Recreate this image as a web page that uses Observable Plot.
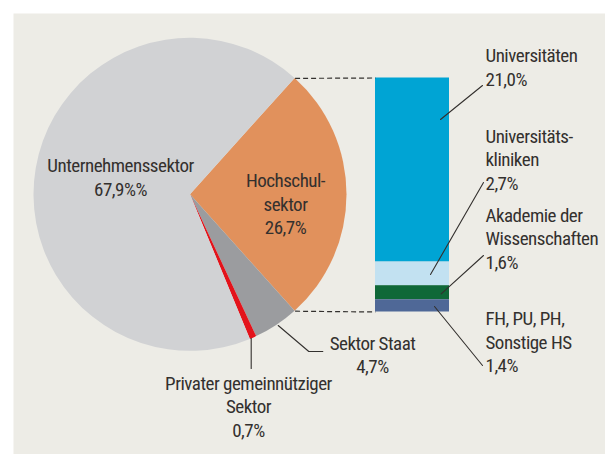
<!DOCTYPE html>
<html>
<head>
<meta charset="utf-8">
<script src="https://cdn.jsdelivr.net/npm/d3@7"></script>
<script src="https://cdn.jsdelivr.net/npm/@observablehq/plot@0.6"></script>
<style>
  html, body { margin: 0; padding: 0; background: #ffffff; }
</style>
</head>
<body>
<div id="chart"></div>
<script>
// ---------- DATA ----------
// Pie: sectors (clockwise, starting with the exploded Hochschulsektor)
const sectorNames  = ["Hochschulsektor", "Sektor Staat", "Privater gemeinnütziger Sektor", "Unternehmenssektor"];
const sectorShares = [26.7, 4.7, 0.7, 67.9];
const sectorLabels = ["Hochschul-\nsektor\n26,7%", "Sektor Staat\n4,7%", "Privater gemeinnütziger\nSektor\n0,7%", "Unternehmenssektor\n67,9%%"];

// Bar: breakdown of the Hochschulsektor (top to bottom)
const hsNames  = ["Universitäten", "Universitätskliniken", "Akademie der Wissenschaften", "FH, PU, PH, Sonstige HS"];
const hsShares = [21.0, 2.7, 1.6, 1.4];
const hsLabels = ["Universitäten\n21,0%", "Universitäts-\nkliniken\n2,7%", "Akademie der\nWissenschaften\n1,6%", "FH, PU, PH,\nSonstige HS\n1,4%"];

// ---------- STYLE ----------
const sectorColors = ["#e1915c", "#9b9c9f", "#e3131b", "#d1d2d4"];
const hsColors     = ["#00a4d4", "#c2e1f1", "#0f6838", "#4f6897"];
const PANEL = "#edece6", INK = "#33302e";
const FONT = "'Liberation Sans Narrow', 'Roboto Condensed', 'DejaVu Sans Condensed', sans-serif";
const FS = 19, LH = 23.3 / 19;

// ---------- LAYOUT (pixels) ----------
const W = 605, H = 454;
const PIE = {cx: 190, cy: 194.3, r: 156.5};
const BAR = {x1: 375, x2: 449, top: 77.5, bottom: 311.5};

const hsTotal = d3.sum(hsShares);
const yDef = {type: "linear", domain: [0, hsTotal], range: [BAR.bottom, BAR.top]};
const yScale = Plot.scale({y: yDef});
const Y = (py) => yScale.invert(py);   // pixel layout -> y units

const sectors = sectorNames.map((name, i) => ({name, share: sectorShares[i], color: sectorColors[i], label: sectorLabels[i]}));
const hs = hsNames.map((name, i) => ({name, share: hsShares[i], color: hsColors[i], label: hsLabels[i]}));

// pie orientation: exploded slice centred on the right (east)
const pieTotal = d3.sum(sectorShares);
const startAngle = Math.PI / 2 - (sectorShares[0] / pieTotal) * Math.PI;
const arcs = d3.pie().sort(null).value(d => d.share)
  .startAngle(startAngle).endAngle(startAngle + 2 * Math.PI)(sectors);

// connectors from the Hochschul slice edges to the bar corners
const hsArc = arcs[0];
const edge = a => ({x: PIE.cx + PIE.r * Math.sin(a), y: PIE.cy - PIE.r * Math.cos(a)});
const connectors = [
  {from: edge(hsArc.startAngle), toY: hsTotal},
  {from: edge(hsArc.endAngle), toY: 0}
];

// label positions (x, last-line baseline)
const sectorLabelPos = [
  {x: 285, y: 233.3},
  {x: 372, y: 372.7},
  {x: 248, y: 436},
  {x: 120, y: 195}
];
const hsLabelPos = [
  {x: 485, y: 85},
  {x: 485, y: 189},
  {x: 485, y: 268},
  {x: 485, y: 371.5}
];
const sectorLabelRows = sectors.map((d, i) => ({text: d.label, ...sectorLabelPos[i]}));
const hsLabelRows = hs.map((d, i) => ({text: d.label, ...hsLabelPos[i]}));

// leader lines (pixel polylines)
const leaders = [
  {id: "uni",  pts: [[440, 119], [482, 85]]},
  {id: "klin", pts: [[430, 274], [483, 182]]},
  {id: "akad", pts: [[440.7, 293.3], [483, 255]]},
  {id: "fh",   pts: [[434, 306], [482, 365]]},
  {id: "staat",pts: [[277.7, 325], [308.3, 351], [322.3, 351]]},
  {id: "priv", pts: [[250.7, 338], [250.7, 368]]}
];
const leaderPts = leaders.flatMap(l => l.pts.map(([x, y]) => ({id: l.id, x, y: Y(y)})));

// pie render mark (uses Plot's scales for placement)
function pieMark(index, scales) {
  const cx = scales.x(PIE.cx), cy = scales.y(Y(PIE.cy));
  const arc = d3.arc().innerRadius(0).outerRadius(PIE.r);
  const g = d3.create("svg:g").attr("transform", `translate(${cx},${cy})`);
  g.selectAll("path").data(arcs).join("path")
    .attr("d", arc)
    .attr("fill", d => d.data.color);
  return g.node();
}

const textOpts = {x: "x", y: d => Y(d.y), text: "text", lineAnchor: "bottom", lineHeight: LH, fontSize: FS, fill: INK};

const chart = Plot.plot({
  width: W,
  height: H,
  margin: 0,
  x: {type: "identity", axis: null},
  y: {...yDef, axis: null},
  style: {fontFamily: FONT, fontSize: FS + "px", color: INK, background: "#ffffff", letterSpacing: "-0.5px"},
  marks: [
    Plot.frame({fill: PANEL, stroke: "none", insetLeft: 13, insetTop: 13}),
    pieMark,
    Plot.rectY(hs, Plot.stackY({x1: BAR.x1, x2: BAR.x2, y: "share", fill: "color", reverse: true})),
    Plot.link(connectors, {
      x1: d => d.from.x, y1: d => Y(d.from.y),
      x2: BAR.x1, y2: d => d.toY,
      stroke: INK, strokeWidth: 1.2, strokeDasharray: "5,3"
    }),
    Plot.line(leaderPts, {x: "x", y: "y", z: "id", stroke: INK, strokeWidth: 1.1}),
    Plot.text(sectorLabelRows, {...textOpts, textAnchor: "middle"}),
    Plot.text(hsLabelRows, {...textOpts, textAnchor: "start"})
  ]
});
document.getElementById("chart").appendChild(chart);
</script>
</body>
</html>
